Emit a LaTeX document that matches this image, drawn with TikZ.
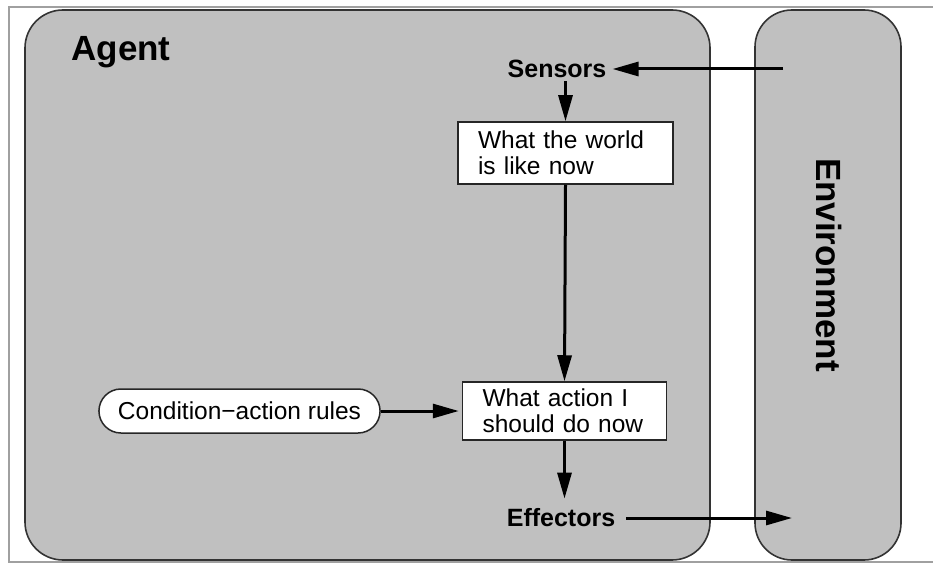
\documentclass[tikz,border=0pt]{standalone}
\usepackage{fontspec}
\setmainfont{Liberation Sans}
\usetikzlibrary{arrows.meta}
\definecolor{panelgray}{HTML}{C0C0C0}
\definecolor{framegray}{HTML}{A0A0A0}
\begin{document}
\begin{tikzpicture}[x=1pt,y=-1pt,
  panel/.style={draw=black!80,line width=1.6pt,fill=panelgray,rounded corners=38pt},
  lbl/.style={font=\fontsize{25pt}{27pt}\selectfont\bfseries,inner sep=0pt},
  big/.style={font=\fontsize{35pt}{37pt}\selectfont\bfseries,inner sep=0pt},
  infobox/.style={draw=black!85,line width=1.5pt,fill=white,font=\fontsize{24.5pt}{26pt}\selectfont,align=left,inner xsep=20pt,inner ysep=4pt},
  rulebox/.style={draw=black!85,line width=1.5pt,fill=white,font=\fontsize{24.5pt}{26pt}\selectfont,rounded corners=22pt,minimum height=44pt,inner xsep=19pt},
  flow/.style={line width=3pt,-{Triangle[length=26pt,width=14pt]}}]
\useasboundingbox (0,0) rectangle (933,564);
\fill[white] (0,0) rectangle (933,564);
\draw[framegray,line width=1.4pt] (960,7) -- (9,7) -- (9,562) -- (960,562);
% panels
\draw[panel] (25,10) rectangle (710,560);
\draw[panel,rounded corners=37pt] (755,10) rectangle (901,560);
% labels
\node[big] (agent) at (121,52) {Agent};
\node[big,rotate=-90] (env) at (829,265) {Environment};
\node[lbl] (sensors) at (557,69) {Sensors};
\node[lbl] (effectors) at (561,518) {Effectors};
% boxes
\node[infobox,text width=175pt,minimum height=62pt] (world) at (565.5,153) {What the world\\is like now};
\node[infobox,text width=164pt,minimum height=58pt] (action) at (564.5,411) {What action I\\should do now};
\node[rulebox] (rules) at (239.5,411) {Condition−action rules};
% connectors
\coordinate (envin) at (783,69);
\coordinate (envout) at (792,518);
\draw[flow] (envin) -- ([xshift=6pt]sensors.east);
\draw[flow] ([yshift=-3pt]sensors.south -| world.north) -- (world.north);
\draw[flow] (world.south) -- (action.north);
\draw[flow] (rules.east) -- ([xshift=-3pt]action.west);
\draw[flow,shorten >=10pt] (action.south) -- (effectors.north -| action.south);
\draw[flow] ([xshift=11pt]effectors.east) -- (envout);
\end{tikzpicture}
\end{document}
